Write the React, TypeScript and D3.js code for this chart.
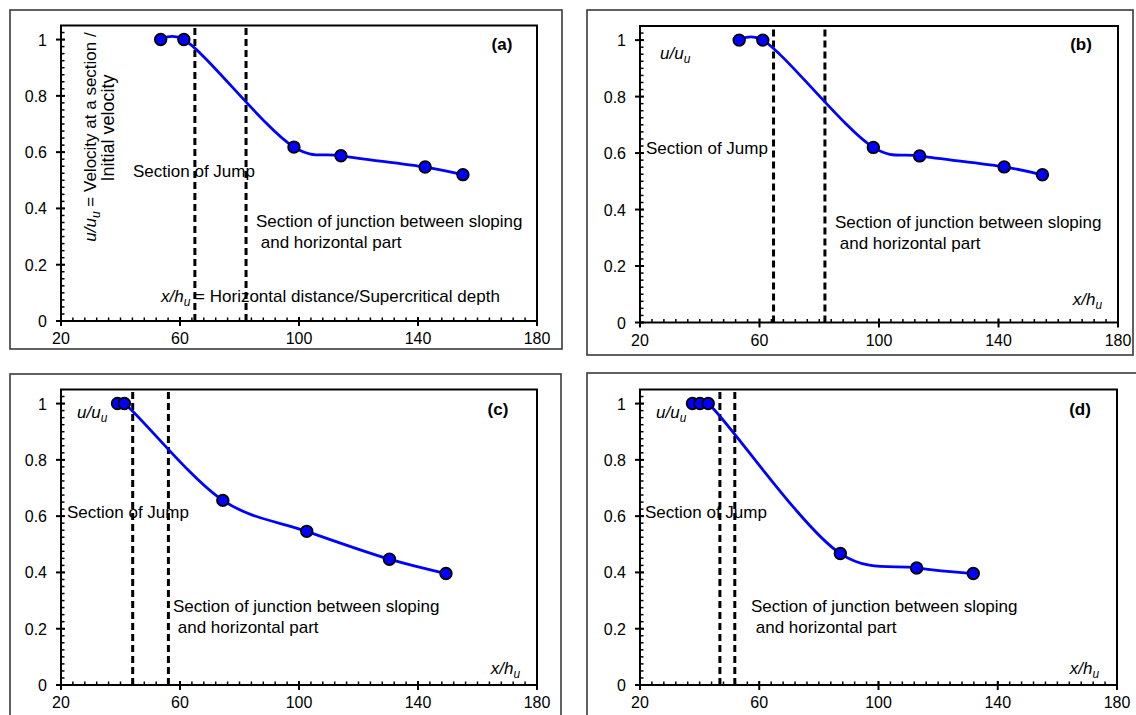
import React from "react";
import * as d3 from "d3";

// ---------- data ----------
const xTicks = [20, 60, 100, 140, 180];
const yTicks = [0, 0.2, 0.4, 0.6, 0.8, 1];
const yTickLabels = ["0", "0.2", "0.4", "0.6", "0.8", "1"];

const xA = [53.5, 61.3, 98.3, 114.1, 142.4, 155.1];
const yA = [1, 1, 0.618, 0.587, 0.547, 0.52];
const xB = [53.2, 61.1, 98.1, 113.6, 141.9, 154.7];
const yB = [1, 1, 0.62, 0.59, 0.551, 0.523];
const xC = [39.0, 41.3, 74.4, 102.6, 130.4, 149.4];
const yC = [1, 1, 0.656, 0.546, 0.447, 0.396];
const xD = [37.6, 40.1, 42.9, 87.2, 112.8, 131.8];
const yD = [1, 1, 1, 0.467, 0.416, 0.396];

const jumpX = [65.0, 64.7, 44.1, 46.8];
const junctionX = [82.2, 81.9, 56.1, 51.8];
const panelLabels = ["(a)", "(b)", "(c)", "(d)"];

const textJump = "Section of Jump";
const textJunction1 = "Section of junction between sloping";
const textJunction2 = " and horizontal part";
const xLabelLong = " = Horizontal distance/Supercritical depth";
const yLabelLine1 = " = Velocity at a section /";
const yLabelLine2 = "Initial velocity";

// ---------- layout ----------
const FONT = "'Liberation Sans', Arial, sans-serif";
const layouts = [
  { frame: [10, 10, 562, 349], plot: [61, 25.5, 537, 321], jump: [133, 177], junc: [256, 227], lab: [502, 50], uu: null, xl: null },
  { frame: [587, 10, 1133, 355], plot: [640, 26, 1118, 322.5], jump: [646, 154], junc: [835, 228], lab: [1081, 50], uu: [660, 59], xl: [1102, 305] },
  { frame: [10, 374, 561, 740], plot: [61, 389.5, 537, 685], jump: [67, 518], junc: [173, 612], lab: [498, 415], uu: [77, 418], xl: [520, 674] },
  { frame: [587, 373, 1145, 740], plot: [640, 389.5, 1117, 685], jump: [645, 518], junc: [751, 612], lab: [1080, 415], uu: [656, 418], xl: [1099, 674] },
];

const series = [
  { x: xA, y: yA },
  { x: xB, y: yB },
  { x: xC, y: yC },
  { x: xD, y: yD },
];

function UU({ x, y, size = 17, anchor = "start" }: any) {
  return (
    <text x={x} y={y} fontSize={size} fontStyle="italic" textAnchor={anchor} fill="#000">
      u/u<tspan fontSize={size * 0.7} dy={size * 0.25}>u</tspan>
    </text>
  );
}

function XH({ x, y, size = 17, anchor = "start" }: any) {
  return (
    <text x={x} y={y} fontSize={size} fontStyle="italic" textAnchor={anchor} fill="#000">
      x/h<tspan fontSize={size * 0.7} dy={size * 0.25}>u</tspan>
    </text>
  );
}

function Panel({ i }: { i: number }) {
  const L = layouts[i];
  const [pl, pt, pr, pb] = L.plot;
  const xs = d3.scaleLinear().domain([20, 180]).range([pl, pr]);
  const ys = d3.scaleLinear().domain([0, 1.05]).range([pb, pt]);
  const s = series[i];
  const pts = s.x.map((v, k) => [v, s.y[k]] as [number, number]);
  const line = d3
    .line<[number, number]>()
    .x((d) => xs(d[0]))
    .y((d) => ys(d[1]))
    .curve(d3.curveCatmullRom.alpha(0.3));
  const minorX = d3.range(20, 180.001, 4);
  const minorY = d3.range(0, 1.05, 0.025);
  const [fl, ft, fr, fb] = L.frame;
  return (
    <g fontFamily={FONT}>
      <rect x={fl} y={ft} width={fr - fl} height={fb - ft} fill="white" stroke="#3a3a3a" strokeWidth={1.6} />
      <rect x={pl} y={pt} width={pr - pl} height={pb - pt} fill="none" stroke="#000" strokeWidth={2} />
      {minorX.map((v) => (
        <line key={"mx" + v} x1={xs(v)} x2={xs(v)} y1={pb} y2={pb - 3.5} stroke="#000" strokeWidth={1.5} />
      ))}
      {minorY.map((v) => (
        <line key={"my" + v} x1={pl} x2={pl + 3.5} y1={ys(v)} y2={ys(v)} stroke="#000" strokeWidth={1.5} />
      ))}
      {xTicks.map((v) => (
        <line key={"Mx" + v} x1={xs(v)} x2={xs(v)} y1={pb - 4} y2={pb + 5} stroke="#000" strokeWidth={2} />
      ))}
      {yTicks.map((v) => (
        <line key={"My" + v} x1={pl - 5} x2={pl + 4} y1={ys(v)} y2={ys(v)} stroke="#000" strokeWidth={2} />
      ))}
      {xTicks.map((v) => (
        <text key={"tx" + v} x={xs(v)} y={pb + 23} fontSize={16} textAnchor="middle" fill="#000">
          {v}
        </text>
      ))}
      {yTicks.map((v, k) => (
        <text key={"ty" + v} x={pl - 14} y={ys(v) + 6} fontSize={16} textAnchor="end" fill="#000">
          {yTickLabels[k]}
        </text>
      ))}
      {[jumpX[i], junctionX[i]].map((v, k) => (
        <line key={"d" + k} x1={xs(v)} x2={xs(v)} y1={pb} y2={pt + 2} stroke="#000" strokeWidth={3} strokeDasharray="7,4" />
      ))}
      <path d={line(pts) || ""} fill="none" stroke="#0000ff" strokeWidth={2.8} />
      {pts.map((p, k) => (
        <circle key={"c" + k} cx={xs(p[0])} cy={ys(p[1])} r={5.8} fill="#0000ff" stroke="#000" strokeWidth={1.8} />
      ))}
      <text x={L.lab[0]} y={L.lab[1]} fontSize={17} fontWeight="bold" textAnchor="middle" fill="#000">
        {panelLabels[i]}
      </text>
      <text x={L.jump[0]} y={L.jump[1]} fontSize={17} fill="#000">{textJump}</text>
      <text x={L.junc[0]} y={L.junc[1]} fontSize={17} fill="#000">{textJunction1}</text>
      <text x={L.junc[0]} y={L.junc[1] + 21} fontSize={17} fill="#000" xmlSpace="preserve">{textJunction2}</text>
      {L.uu && <UU x={L.uu[0]} y={L.uu[1]} />}
      {L.xl && <XH x={L.xl[0]} y={L.xl[1]} anchor="end" />}
      {i === 0 && (
        <g>
          <text x={161} y={302} fontSize={17} fill="#000" xmlSpace="preserve">
            <tspan fontStyle="italic">x/h</tspan>
            <tspan fontStyle="italic" fontSize={12} dy={4}>u</tspan>
            <tspan dy={-4}>{xLabelLong}</tspan>
          </text>
          <text transform="translate(96,137) rotate(-90)" fontSize={17} textAnchor="middle" fill="#000" xmlSpace="preserve">
            <tspan fontStyle="italic">u/u</tspan>
            <tspan fontStyle="italic" fontSize={12} dy={4}>u</tspan>
            <tspan dy={-4}>{yLabelLine1}</tspan>
          </text>
          <text transform="translate(114,128) rotate(-90)" fontSize={18} textAnchor="middle" fill="#000">
            {yLabelLine2}
          </text>
        </g>
      )}
    </g>
  );
}

export default function App() {
  return (
    <svg width={1136} height={715} style={{ position: "absolute", left: 0, top: 0, background: "white" }}>
      <rect x={0} y={0} width={1136} height={715} fill="white" />
      {[0, 1, 2, 3].map((i) => (
        <Panel key={i} i={i} />
      ))}
    </svg>
  );
}
